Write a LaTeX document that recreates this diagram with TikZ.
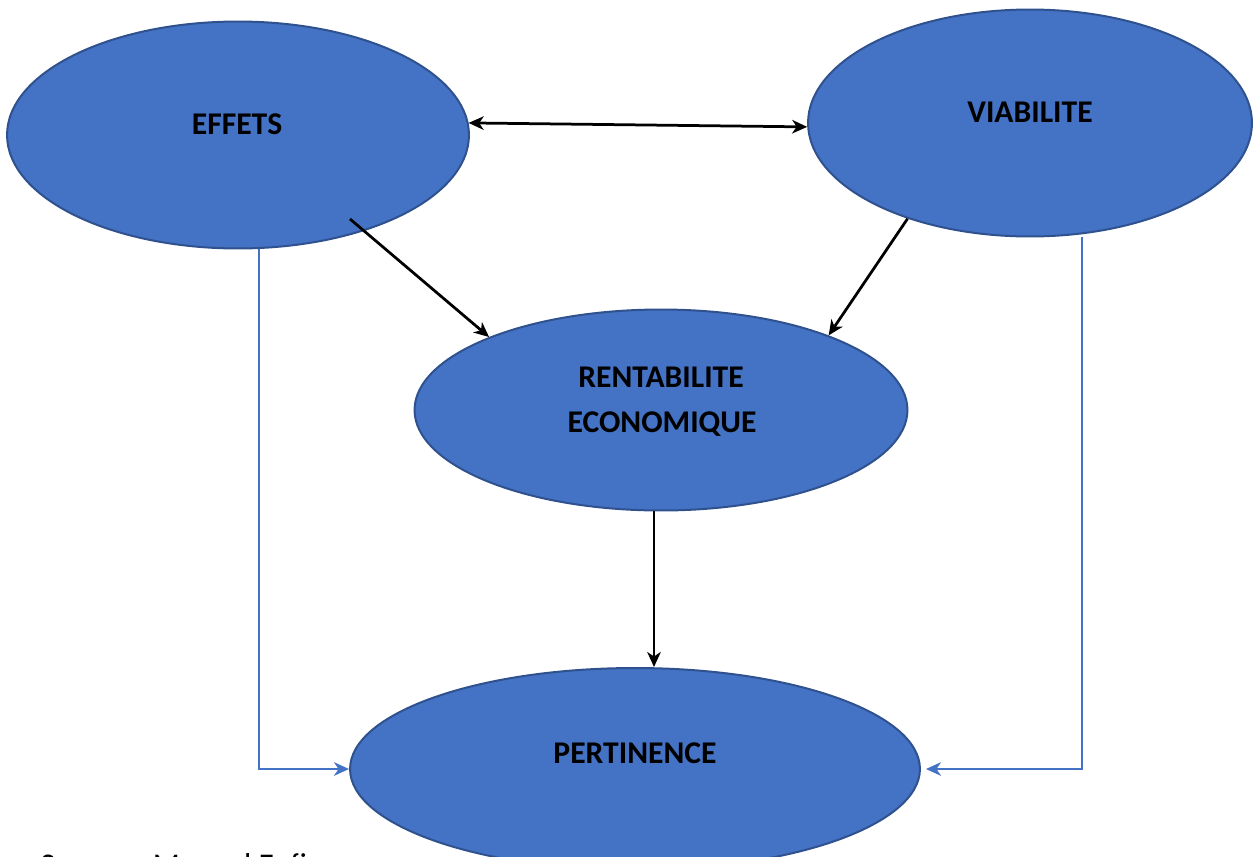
\documentclass[tikz,border=0pt]{standalone}
\usepackage{fontspec}
\setmainfont{Carlito}
\usetikzlibrary{shapes.geometric,arrows.meta}
\definecolor{bubblefill}{HTML}{4472C4}
\definecolor{bubbleedge}{HTML}{2F528F}
\begin{document}
\begin{tikzpicture}[x=0.02cm,y=-0.02cm,
  bubble/.style={ellipse,draw=bubbleedge,line width=0.04cm,fill=bubblefill,inner sep=0pt},
  lbl/.style={font=\bfseries\fontsize{18}{22}\selectfont,inner sep=0pt,text depth=0pt},
  tip/.tip={Stealth[length=0.3cm,width=0.27cm,inset=0.09cm]},
  link/.style={-tip,black,line width=0.055cm},
  both/.style={tip-tip,black,line width=0.055cm},
  feed/.style={-tip,bubblefill,line width=0.055cm}]
\useasboundingbox (0,0) rectangle (1254,856);
\clip (0,0) rectangle (1254,856);

% the four evaluation criteria
\node[bubble,minimum width=9.24cm,minimum height=4.54cm] (effets) at (238,135) {};
\node[bubble,minimum width=8.88cm,minimum height=4.54cm] (viab) at (1030,123) {};
\node[bubble,minimum width=9.86cm,minimum height=4.02cm] (rent) at (661,410) {};
\node[bubble,minimum width=11.4cm,minimum height=4.04cm] (pert) at (635,769) {};

\node[lbl] (effets-t) at (237,124) {EFFETS};
\node[lbl] (viab-t) at (1030,112.5) {VIABILITE};
\node[lbl] (rent-t1) at (661,377) {RENTABILITE};
\node[lbl] (rent-t2) at (662,422) {ECONOMIQUE};
\node[lbl] (pert-t) at (635,753) {PERTINENCE};

% links between criteria
\coordinate (e-start) at (350,219);
\draw[both] (effets.3.5) -- (viab.181.5);
\draw[link] (e-start) -- (rent.157);
\draw[link] (viab.218) -- (rent.24);
\draw[link] ([xshift=-0.14cm]rent.south) -- ([xshift=-0.14cm]rent.south |- pert.north);

% side feeds into relevance
\draw[feed] ([xshift=0.42cm]effets.south) |- (pert.west);
\draw[feed] ([xshift=1.04cm]viab.south) |- ([xshift=0.1cm]pert.east);

% source line
\node[anchor=base west,inner sep=0pt,font=\fontsize{18}{22}\selectfont] (source) at (40,875) {Source : Manuel Enfi};
\end{tikzpicture}
\end{document}
